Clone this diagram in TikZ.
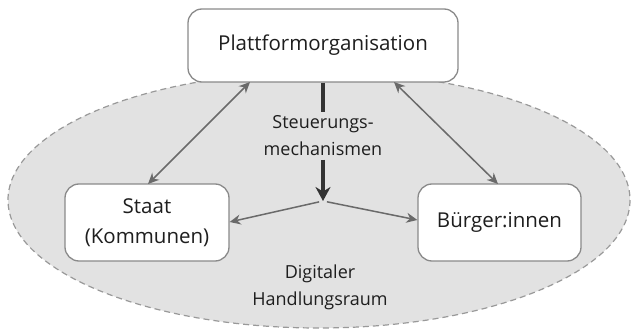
\documentclass[tikz,border=0pt]{standalone}
\usepackage{fontspec}
\setmainfont{Open Sans}
\usetikzlibrary{arrows.meta}
\definecolor{boxline}{HTML}{8A8A8A}
\definecolor{areafill}{HTML}{E2E2E2}
\definecolor{arealine}{HTML}{999999}
\definecolor{linkgray}{HTML}{6A6A6A}
\definecolor{txt}{HTML}{1E1E1E}
\tikzset{
  actor/.style={draw=boxline, line width=1.3pt, fill=white, rounded corners=14pt,
    text=txt, align=center, font=\fontsize{20.5}{30}\selectfont},
  lbl/.style={text=txt, align=center, font=\fontsize{18}{27}\selectfont},
  link/.style={draw=linkgray, line width=1.5pt, {Stealth[length=11pt,width=10pt]}-{Stealth[length=11pt,width=10pt]}},
  onelink/.style={draw=linkgray, line width=1.5pt, -{Stealth[length=11pt,width=10pt]}},
  steer/.style={draw=black!80, line width=3.5pt}
}
\begin{document}
\begin{tikzpicture}[x=1pt,y=-1pt]
\useasboundingbox (0,0) rectangle (631,331);
% action space
\draw[fill=areafill, draw=arealine, line width=1.2pt, dash pattern=on 6pt off 4pt]
  (319,200) ellipse [x radius=311, y radius=128];
\node[lbl] (raum) at (320,287) {Digitaler\\Handlungsraum};
% actors
\node[actor, minimum width=270pt, minimum height=73pt] (plat) at (323,45.5) {Plattformorganisation};
\node[actor, minimum width=164pt, minimum height=77pt] (staat) at (147,222.5) {Staat\\(Kommunen)};
\node[actor, minimum width=163pt, minimum height=77pt] (buerger) at (499.5,222.5) {Bürger:innen};
% steering mechanisms
\node[lbl] (steu) at (323,136) {Steuerungs-\\mechanismen};
\coordinate (hub) at (323,201);
\draw[steer] (plat.south -| steu) -- (steu.north);
\draw[steer, -{Stealth[length=14pt,width=15pt]}] (steu.south) -- (hub);
\draw[onelink, shorten <=4pt] (hub) -- (staat.east |- 0,222);
\draw[onelink, shorten <=4pt] (hub) -- (buerger.west |- 0,220);
% relations between actors
\coordinate (pl) at (250,82);
\coordinate (pr) at (394,82);
\coordinate (st) at (148,184);
\coordinate (bt) at (498,184);
\draw[link] (st) -- (pl);
\draw[link] (bt) -- (pr);
\end{tikzpicture}
\end{document}
